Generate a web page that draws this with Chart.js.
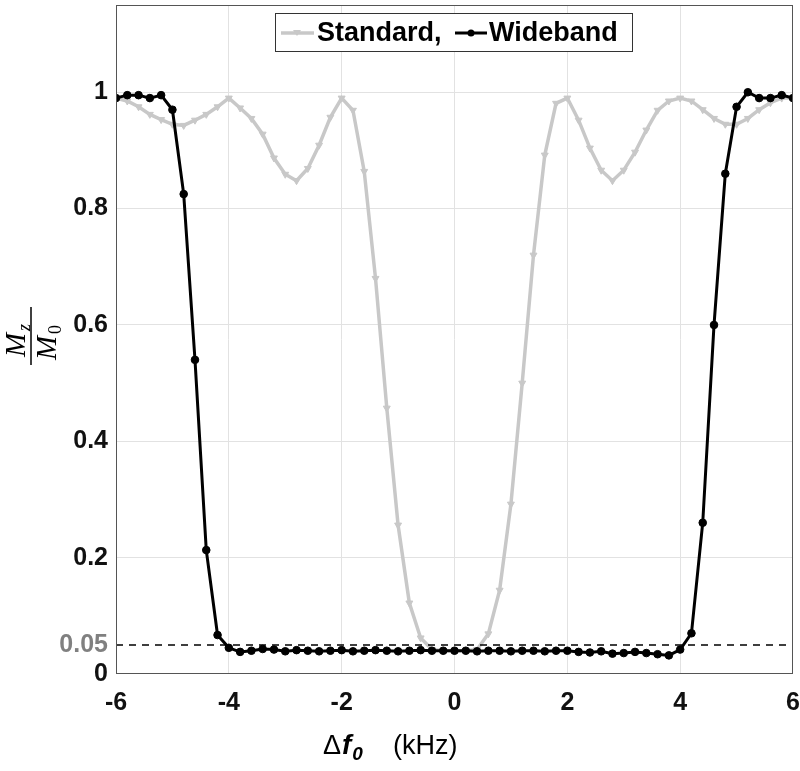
<!DOCTYPE html>
<html>
<head>
<meta charset="utf-8">
<script src="https://cdn.jsdelivr.net/npm/chart.js@4"></script>
<style>
  html, body { margin: 0; padding: 0; background: #fff; }
  #wrap { width: 800px; height: 771px; }
</style>
</head>
<body>
<div id="wrap"><canvas id="chart" width="800" height="771"></canvas></div>
<script>
// Data
const freq = [-6.0, -5.8, -5.6, -5.4, -5.2, -5.0, -4.8, -4.6, -4.4, -4.2,
  -4.0, -3.8, -3.6, -3.4, -3.2, -3.0, -2.8, -2.6, -2.4, -2.2,
  -2.0, -1.8, -1.6, -1.4, -1.2, -1.0, -0.8, -0.6, -0.4, -0.2,
  0.0, 0.2, 0.4, 0.6, 0.8, 1.0, 1.2, 1.4, 1.6, 1.8,
  2.0, 2.2, 2.4, 2.6, 2.8, 3.0, 3.2, 3.4, 3.6, 3.8,
  4.0, 4.2, 4.4, 4.6, 4.8, 5.0, 5.2, 5.4, 5.6, 5.8, 6.0];

const standard = [0.99, 0.985, 0.975, 0.962, 0.953, 0.945, 0.943, 0.952, 0.962, 0.975,
  0.99, 0.973, 0.955, 0.928, 0.887, 0.859, 0.848, 0.869, 0.909, 0.957,
  0.99, 0.969, 0.864, 0.68, 0.457, 0.256, 0.122, 0.062, 0.042, 0.040,
  0.040, 0.040, 0.042, 0.069, 0.144, 0.292, 0.50, 0.72, 0.892, 0.981,
  0.99, 0.952, 0.904, 0.866, 0.848, 0.866, 0.897, 0.935, 0.969, 0.985,
  0.99, 0.985, 0.97, 0.955, 0.945, 0.945, 0.955, 0.97, 0.982, 0.99, 0.99];

const wideband = [0.99, 0.995, 0.995, 0.99, 0.995, 0.97, 0.825, 0.54, 0.213, 0.067,
  0.045, 0.038, 0.040, 0.043, 0.042, 0.039, 0.041, 0.040, 0.039, 0.040,
  0.041, 0.039, 0.040, 0.041, 0.040, 0.039, 0.040, 0.041, 0.040, 0.040,
  0.040, 0.040, 0.039, 0.040, 0.040, 0.039, 0.040, 0.040, 0.039, 0.040,
  0.040, 0.038, 0.037, 0.039, 0.035, 0.036, 0.038, 0.036, 0.034, 0.032,
  0.042, 0.07, 0.26, 0.60, 0.86, 0.975, 1.0, 0.99, 0.99, 0.995, 0.99];

const threshold = 0.05;
const xTicks = [-6, -4, -2, 0, 2, 4, 6];
const yTicks = [0, 0.05, 0.2, 0.4, 0.6, 0.8, 1];

const GRAY = '#c8c8c8';
const FONT = '"Liberation Sans", Arial, sans-serif';
const SERIF = '"Liberation Serif", "DejaVu Serif", serif';

const toPoints = (ys) => freq.map((f, i) => ({ x: f, y: ys[i] }));

// drop the extra room Chart.js keeps for edge tick labels
function fixScale(scale, size) {
  if (scale.isHorizontal()) scale.height = size; else scale.width = size;
  scale.paddingTop = 0;
  scale.paddingBottom = 0;
  scale.paddingLeft = 0;
  scale.paddingRight = 0;
}

// Legend box, axis titles and frame
const decorations = {
  id: 'decorations',
  afterDraw(chart) {
    const ctx = chart.ctx;
    const area = chart.chartArea;
    ctx.save();

    // frame
    ctx.strokeStyle = '#555';
    ctx.lineWidth = 1;
    ctx.strokeRect(area.left + 0.5, area.top + 0.5, area.right - area.left - 1, area.bottom - area.top - 1);

    // legend
    ctx.fillStyle = '#fff';
    ctx.fillRect(275, 13, 358, 39);
    ctx.strokeStyle = '#333';
    ctx.strokeRect(275.5, 13.5, 357, 38);
    const ly = 33;
    ctx.lineWidth = 3.5;
    ctx.strokeStyle = GRAY;
    ctx.beginPath(); ctx.moveTo(281, ly); ctx.lineTo(314, ly); ctx.stroke();
    ctx.fillStyle = GRAY;
    ctx.beginPath(); ctx.moveTo(293, ly - 3); ctx.lineTo(301, ly - 3); ctx.lineTo(297, ly + 3); ctx.closePath(); ctx.fill();
    ctx.strokeStyle = '#000';
    ctx.lineWidth = 3;
    ctx.beginPath(); ctx.moveTo(455, ly); ctx.lineTo(487, ly); ctx.stroke();
    ctx.fillStyle = '#000';
    ctx.beginPath(); ctx.arc(471, ly, 3.5, 0, Math.PI * 2); ctx.fill();
    ctx.font = 'bold 27px ' + FONT;
    ctx.textBaseline = 'middle';
    ctx.textAlign = 'left';
    ctx.fillText('Standard,', 317, ly + 1);
    ctx.fillText('Wideband', 489, ly + 1);

    // x title: Δf0 (kHz)
    const xy = 754;
    ctx.textBaseline = 'alphabetic';
    ctx.font = '27px ' + FONT;
    let x = 323;
    ctx.fillText('\u0394', x, xy);
    x += ctx.measureText('\u0394').width + 1;
    ctx.font = 'italic bold 28px ' + FONT;
    ctx.fillText('f', x, xy);
    x += ctx.measureText('f').width + 1;
    ctx.font = 'italic bold 19px ' + FONT;
    ctx.fillText('0', x, xy + 6);
    ctx.font = '27px ' + FONT;
    ctx.fillText('(kHz)', 393, xy);

    // y title: Mz / M0 as a fraction, rotated
    ctx.translate(31, 336);
    ctx.rotate(-Math.PI / 2);
    ctx.lineWidth = 1.5;
    ctx.beginPath(); ctx.moveTo(-29, 0); ctx.lineTo(29, 0); ctx.stroke();
    ctx.font = 'italic 29px ' + SERIF;
    ctx.fillText('M', -21, -6);
    ctx.font = 'italic 18px ' + SERIF;
    ctx.fillText('z', 5, -1);
    ctx.font = 'italic 29px ' + SERIF;
    ctx.fillText('M', -24, 25);
    ctx.font = '18px ' + SERIF;
    ctx.fillText('0', 2, 30);

    ctx.restore();
  }
};

new Chart(document.getElementById('chart'), {
  type: 'line',
  data: {
    datasets: [
      {
        label: 'Standard',
        data: toPoints(standard),
        borderColor: GRAY,
        backgroundColor: GRAY,
        borderWidth: 3.5,
        pointStyle: 'triangle',
        rotation: 180,
        pointRadius: 4,
        pointBorderWidth: 1,
        order: 3
      },
      {
        label: 'Wideband',
        data: toPoints(wideband),
        borderColor: '#000',
        backgroundColor: '#000',
        borderWidth: 3,
        pointStyle: 'circle',
        pointRadius: 3.8,
        pointBorderWidth: 1,
        order: 1
      },
      {
        label: 'threshold',
        data: [{ x: freq[0], y: threshold }, { x: freq[freq.length - 1], y: threshold }],
        borderColor: '#000',
        borderWidth: 1.5,
        borderDash: [7, 6],
        pointRadius: 0,
        order: 2
      }
    ]
  },
  options: {
    responsive: false,
    animation: false,
    layout: { padding: { top: 2, right: 7, left: 0, bottom: 0 } },
    plugins: {
      legend: { display: false },
      tooltip: { enabled: false }
    },
    scales: {
      x: {
        type: 'linear',
        min: -6,
        max: 6,
        afterFit: (scale) => fixScale(scale, 97),
        afterBuildTicks: (scale) => { scale.ticks = xTicks.map(v => ({ value: v })); },
        grid: {
          color: (c) => (c.tick && (c.tick.value === -6 || c.tick.value === 6)) ? 'rgba(0,0,0,0)' : '#e2e2e2',
          drawTicks: false
        },
        border: { display: false },
        ticks: {
          padding: 14,
          color: '#111',
          font: { family: FONT, size: 25, weight: 'bold' },
          callback: (v) => String(v)
        }
      },
      y: {
        min: 0,
        max: 1.15,
        afterFit: (scale) => fixScale(scale, 116),
        afterBuildTicks: (scale) => { scale.ticks = yTicks.map(v => ({ value: v })); },
        grid: {
          color: (c) => (c.tick && (c.tick.value === 0 || c.tick.value === 0.05)) ? 'rgba(0,0,0,0)' : '#e2e2e2',
          drawTicks: false
        },
        border: { display: false },
        ticks: {
          padding: 8,
          color: (c) => c.tick && c.tick.value === 0.05 ? '#808080' : '#111',
          font: { family: FONT, size: 25, weight: 'bold' },
          callback: (v) => String(v)
        }
      }
    }
  },
  plugins: [decorations]
});
</script>
</body>
</html>
